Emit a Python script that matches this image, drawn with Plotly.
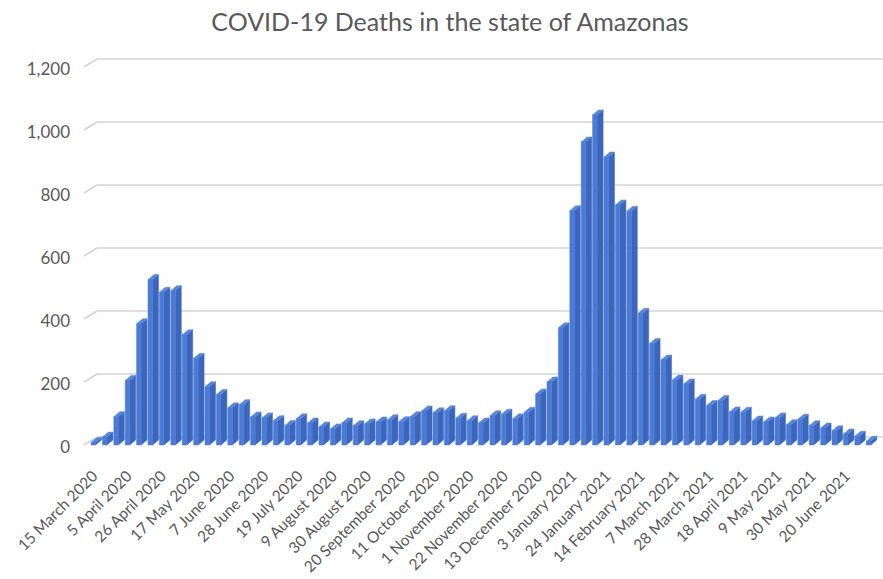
import pandas as pd
import plotly.graph_objects as go

# Weekly COVID-19 deaths in Amazonas, weeks starting 15 March 2020
weeks = [d.strftime("%-d %B %Y") for d in pd.date_range("2020-03-15", periods=69, freq="7D")]
deaths = [
    8, 25, 90, 205, 385, 525, 485, 490, 350, 275, 185, 160,
    118, 128, 89, 86, 77, 62, 83, 70, 57, 51, 70, 61,
    67, 73, 80, 74, 90, 108, 102, 109, 85, 77, 70, 93,
    98, 83, 104, 162, 200, 372, 744, 962, 1048, 914, 762, 742,
    418, 322, 270, 206, 194, 145, 125, 141, 105, 104, 76, 73,
    86, 64, 82, 61, 54, 45, 35, 28, 12,
]
tick_step = 3
y_ticks = [0, 200, 400, 600, 800, 1000, 1200]
title_text = "COVID-19 Deaths in the state of Amazonas"

# ---- pseudo-3D geometry (pixels) ----
W, H = 883, 579
PPU = 0.315          # pixels per death
SLOT = 11.4          # pixels per week
X0 = 93.25           # centre of first bar's front face
Y_BACK0 = 437        # back-wall zero line
FRONT_DROP = 8       # bar front bottom sits below back-wall zero
FRONT_W = 4.5        # width of the front face
DEPTH_DX, DEPTH_DY = 6, 5
WALL_DX, WALL_DY = 13, 8
LABEL_DROP = 10

PLOT_L, PLOT_R, PLOT_T, PLOT_B = 80, W, 50, 452
WALL_L = 97

x_range = [(PLOT_L - X0) / SLOT, (PLOT_R - X0) / SLOT]
y_top_px = Y_BACK0 - max(y_ticks) * PPU
y_range = [-(PLOT_B - Y_BACK0) / PPU, max(y_ticks) + (y_top_px - PLOT_T) / PPU]

ddx = DEPTH_DX / SLOT
ddy = DEPTH_DY / PPU
half = FRONT_W / 2 / SLOT
yb = -FRONT_DROP / PPU

fx, fy, sx, sy, tx, ty = [], [], [], [], [], []
for i, v in enumerate(deaths):
    xl, xr = i - half, i + half
    yt = v + yb
    fx += [xl, xr, xr, xl, xl, None]
    fy += [yb, yb, yt, yt, yb, None]
    sx += [xr, xr + ddx, xr + ddx, xr, xr, None]
    sy += [yb, yb + ddy, yt + ddy, yt, yb, None]
    tx += [xl, xr, xr + ddx, xl + ddx, xl, None]
    ty += [yt, yt, yt + ddy, yt + ddy, yt, None]

fig = go.Figure()
for xs, ys, col in [(sx, sy, "#3C66BB"), (tx, ty, "#5586DD"), (fx, fy, "#4A7BD6")]:
    fig.add_trace(go.Scatter(
        x=xs, y=ys, mode="lines", fill="toself", fillcolor=col,
        line=dict(color=col, width=0.5), hoverinfo="skip", showlegend=False,
    ))

# invisible trace carrying the front-plane value axis
fig.add_trace(go.Scatter(x=[None], y=[None], yaxis="y2", showlegend=False, hoverinfo="skip"))

# wall gridlines: short diagonal then the back-wall line
plot_w = PLOT_R - PLOT_L
wall_x = (WALL_L - PLOT_L) / plot_w
diag_x = (WALL_L - WALL_DX - PLOT_L) / plot_w
shapes = []
for v in y_ticks:
    line = dict(color="#D3D3D3", width=1.5)
    shapes.append(dict(type="line", xref="paper", yref="y", x0=wall_x, x1=1, y0=v, y1=v,
                       line=line, layer="below"))
    shapes.append(dict(type="line", xref="paper", yref="y", x0=diag_x, x1=wall_x,
                       y0=v - WALL_DY / PPU, y1=v, line=line, layer="below"))

text_col = "#595959"
fig.update_layout(
    width=W, height=H,
    margin=dict(l=PLOT_L, r=W - PLOT_R, t=PLOT_T, b=H - PLOT_B, autoexpand=False),
    paper_bgcolor="white", plot_bgcolor="white",
    font=dict(family="Lato", color=text_col),
    title=dict(text=title_text, x=450 / W, xref="container", xanchor="center",
               y=1 - 22 / H, yref="container", yanchor="middle",
               font=dict(size=25, color=text_col, family="Lato")),
    shapes=shapes,
    xaxis=dict(range=x_range, showgrid=False, zeroline=False, showline=False,
               tickmode="array", tickvals=list(range(0, len(weeks), tick_step)),
               ticktext=weeks[::tick_step], tickangle=-45, ticks="",
               tickfont=dict(size=15.5, color=text_col), ticklabelstandoff=11),
    yaxis=dict(range=y_range, showgrid=False, zeroline=False, showline=False,
               showticklabels=False, ticks=""),
    yaxis2=dict(range=[y_range[0] + LABEL_DROP / PPU, y_range[1] + LABEL_DROP / PPU],
                overlaying="y", side="left", showgrid=False, zeroline=False,
                showline=False, tickmode="array", tickvals=y_ticks, tickformat=",",
                ticks="", tickfont=dict(size=17, color=text_col), ticklabelstandoff=9),
)

fig.write_html("out.html")
